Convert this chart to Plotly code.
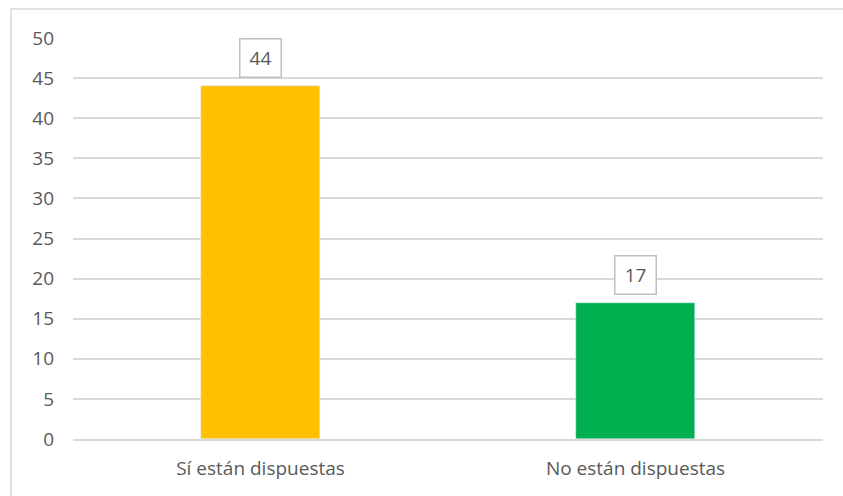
import plotly.graph_objects as go

categories = ["Sí están dispuestas", "No están dispuestas"]
values = [44, 17]
colors = ["#FFC000", "#00B050"]
y_ticks = [0, 5, 10, 15, 20, 25, 30, 35, 40, 45, 50]

fig = go.Figure()
fig.add_trace(go.Bar(x=categories, y=values, marker_color=colors, width=0.315,
                     hoverinfo="skip"))

for c, v in zip(categories, values):
    fig.add_annotation(x=c, y=v, text=str(v), showarrow=False, yanchor="bottom",
                       yshift=8, width=28, height=25,
                       bordercolor="#bfbfbf", borderwidth=1.5, borderpad=6,
                       bgcolor="white", font=dict(size=19, color="#595959",
                                                   family="Open Sans"))

fig.add_shape(type="rect", xref="paper", yref="paper",
              x0=(11 - 73) / 750, x1=1.2, y0=-0.3, y1=1 + (38 - 9) / 401,
              line=dict(color="#d9d9d9", width=1.5), fillcolor="rgba(0,0,0,0)",
              layer="below")

fig.update_layout(
    width=843, height=496,
    margin=dict(l=73, r=20, t=38, b=57),
    plot_bgcolor="white", paper_bgcolor="white",
    showlegend=False,
    font=dict(family="Open Sans", color="#595959", size=19),
    bargap=0,
    xaxis=dict(showgrid=False, showline=True, linecolor="#d9d9d9", linewidth=1.5,
               tickfont=dict(size=19, color="#595959"), ticks="", ticklen=0,
               ticklabelstandoff=11, fixedrange=True),
    yaxis=dict(range=[0, 50], tickvals=y_ticks, showgrid=True, gridcolor="#d9d9d9",
               gridwidth=1.5, zeroline=False, ticks="", ticklabelstandoff=18,
               tickfont=dict(size=19, color="#595959"), fixedrange=True),
)

fig.write_html("out.html", post_script="document.body.style.margin='0';",
               config={"displayModeBar": False})
